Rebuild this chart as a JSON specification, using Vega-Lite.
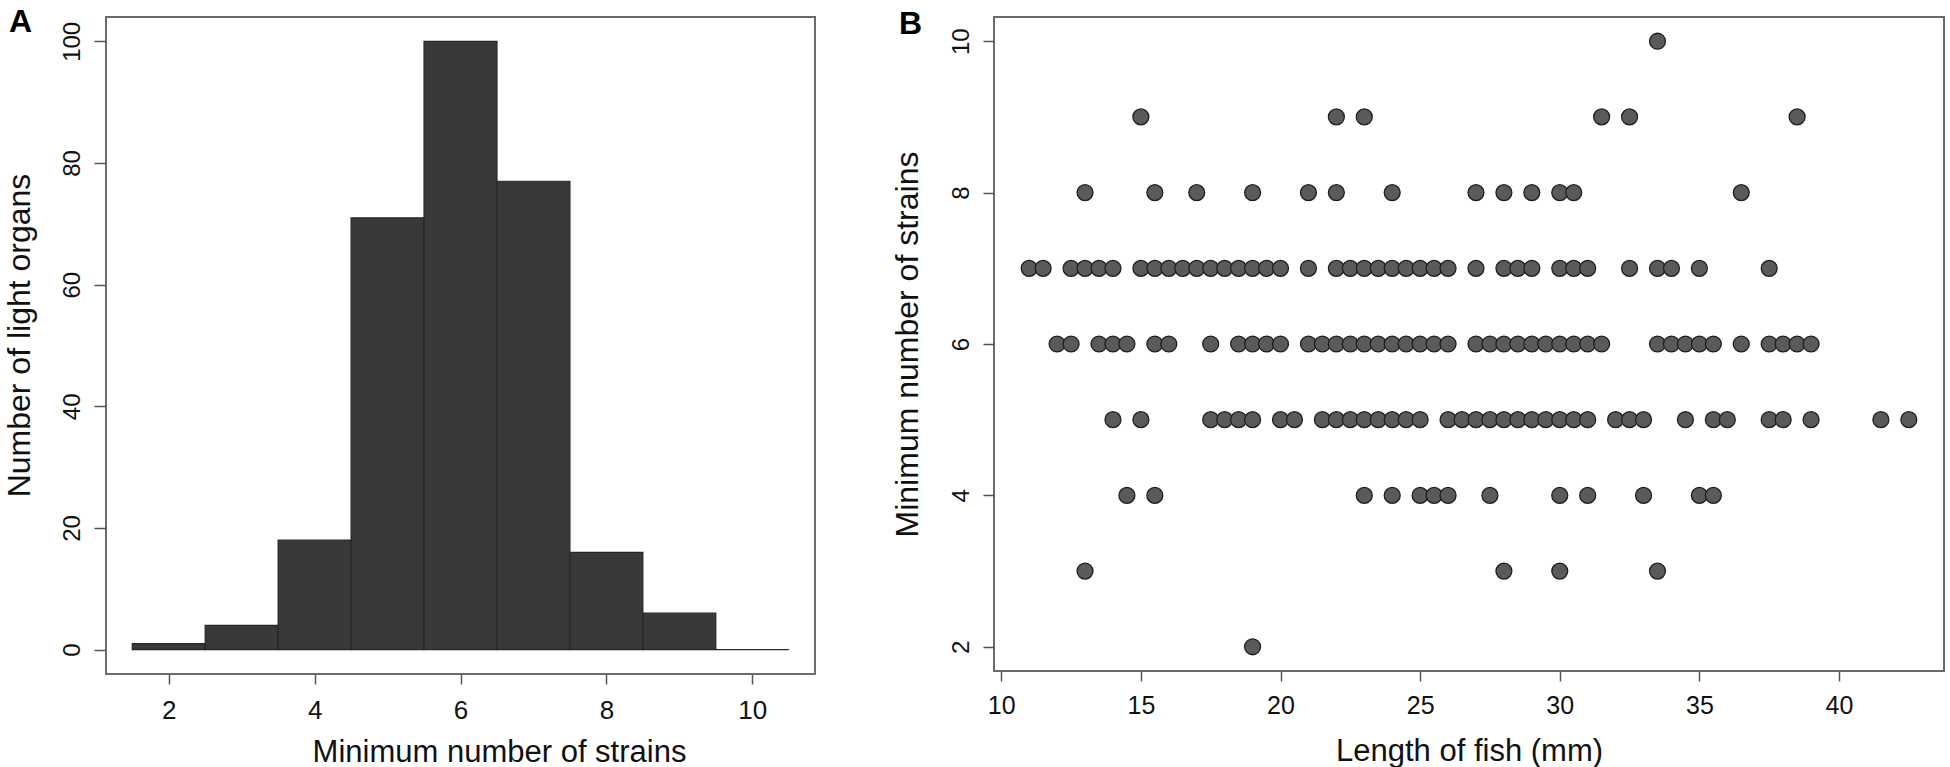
{
  "$schema": "https://vega.github.io/schema/vega-lite/v6.json",
  "padding": {"left": 2, "top": 5, "right": 0, "bottom": 0},
  "spacing": 74,
  "background": "white",
  "config": {
    "font": "Liberation Sans",
    "view": {"stroke": "#6b6b6b", "strokeWidth": 2},
    "axis": {
      "domain": false,
      "grid": false,
      "tickColor": "#555555",
      "tickWidth": 1.5,
      "labelColor": "#111111",
      "titleColor": "#111111",
      "titleFontWeight": "normal",
      "labelFont": "Liberation Sans",
      "titleFont": "Liberation Sans"
    },
    "axisX": {
      "tickSize": 10,
      "labelFontSize": 26,
      "labelBaseline": "alphabetic",
      "labelPadding": 34,
      "titleFontSize": 31,
      "titleBaseline": "alphabetic"
    },
    "axisY": {
      "tickSize": 12,
      "labelAngle": 270,
      "labelAlign": "center",
      "labelBaseline": "alphabetic",
      "labelFontSize": 24,
      "labelPadding": 15,
      "titleFontSize": 32,
      "titleAngle": 270,
      "titleBaseline": "alphabetic"
    },
    "title": {
      "anchor": "start",
      "frame": "group",
      "orient": "top",
      "offset": 0,
      "fontSize": 32,
      "fontWeight": "bold",
      "baseline": "alphabetic",
      "color": "#000000"
    }
  },
  "hconcat": [
    {
      "width": 709,
      "height": 657,
      "title": {"text": "A", "dx": -97, "dy": 26},
      "data": {
        "values": [
          {"lo": 1.5, "hi": 2.5, "count": 1},
          {"lo": 2.5, "hi": 3.5, "count": 4},
          {"lo": 3.5, "hi": 4.5, "count": 18},
          {"lo": 4.5, "hi": 5.5, "count": 71},
          {"lo": 5.5, "hi": 6.5, "count": 100},
          {"lo": 6.5, "hi": 7.5, "count": 77},
          {"lo": 7.5, "hi": 8.5, "count": 16},
          {"lo": 8.5, "hi": 9.5, "count": 6},
          {"lo": 9.5, "hi": 10.5, "count": 0}
        ]
      },
      "mark": {"type": "rect", "fill": "#393939", "stroke": "#262626", "strokeWidth": 1.2},
      "encoding": {
        "x": {
          "field": "lo",
          "type": "quantitative",
          "scale": {"domain": [1.14, 10.86], "nice": false, "zero": false},
          "axis": {"values": [2, 4, 6, 8, 10], "title": "Minimum number of strains", "titleX": 393, "titleY": 87}
        },
        "x2": {"field": "hi"},
        "y": {
          "field": "count",
          "type": "quantitative",
          "scale": {"domain": [-4, 104], "nice": false, "zero": false},
          "axis": {"values": [0, 20, 40, 60, 80, 100], "title": "Number of light organs", "titleX": -77, "titleY": 318}
        },
        "y2": {"datum": 0}
      }
    },
    {
      "width": 950,
      "height": 654,
      "title": {"text": "B", "dx": -95, "dy": 28},
      "data": {
        "values": [
          {"length": 33.5, "strains": 10},
          {"length": 15, "strains": 9}, {"length": 22, "strains": 9}, {"length": 23, "strains": 9},
          {"length": 31.5, "strains": 9}, {"length": 32.5, "strains": 9}, {"length": 38.5, "strains": 9},
          {"length": 13, "strains": 8}, {"length": 15.5, "strains": 8}, {"length": 17, "strains": 8},
          {"length": 19, "strains": 8}, {"length": 21, "strains": 8}, {"length": 22, "strains": 8},
          {"length": 24, "strains": 8}, {"length": 27, "strains": 8}, {"length": 28, "strains": 8},
          {"length": 29, "strains": 8}, {"length": 30, "strains": 8}, {"length": 30.5, "strains": 8},
          {"length": 36.5, "strains": 8},
          {"length": 11, "strains": 7}, {"length": 11.5, "strains": 7}, {"length": 12.5, "strains": 7},
          {"length": 13, "strains": 7}, {"length": 13.5, "strains": 7}, {"length": 14, "strains": 7},
          {"length": 15, "strains": 7}, {"length": 15.5, "strains": 7}, {"length": 16, "strains": 7},
          {"length": 16.5, "strains": 7}, {"length": 17, "strains": 7}, {"length": 17.5, "strains": 7},
          {"length": 18, "strains": 7}, {"length": 18.5, "strains": 7}, {"length": 19, "strains": 7},
          {"length": 19.5, "strains": 7}, {"length": 20, "strains": 7}, {"length": 21, "strains": 7},
          {"length": 22, "strains": 7}, {"length": 22.5, "strains": 7}, {"length": 23, "strains": 7},
          {"length": 23.5, "strains": 7}, {"length": 24, "strains": 7}, {"length": 24.5, "strains": 7},
          {"length": 25, "strains": 7}, {"length": 25.5, "strains": 7}, {"length": 26, "strains": 7},
          {"length": 27, "strains": 7}, {"length": 28, "strains": 7}, {"length": 28.5, "strains": 7},
          {"length": 29, "strains": 7}, {"length": 30, "strains": 7}, {"length": 30.5, "strains": 7},
          {"length": 31, "strains": 7}, {"length": 32.5, "strains": 7}, {"length": 33.5, "strains": 7},
          {"length": 34, "strains": 7}, {"length": 35, "strains": 7}, {"length": 37.5, "strains": 7},
          {"length": 12, "strains": 6}, {"length": 12.5, "strains": 6}, {"length": 13.5, "strains": 6},
          {"length": 14, "strains": 6}, {"length": 14.5, "strains": 6}, {"length": 15.5, "strains": 6},
          {"length": 16, "strains": 6}, {"length": 17.5, "strains": 6}, {"length": 18.5, "strains": 6},
          {"length": 19, "strains": 6}, {"length": 19.5, "strains": 6}, {"length": 20, "strains": 6},
          {"length": 21, "strains": 6}, {"length": 21.5, "strains": 6}, {"length": 22, "strains": 6},
          {"length": 22.5, "strains": 6}, {"length": 23, "strains": 6}, {"length": 23.5, "strains": 6},
          {"length": 24, "strains": 6}, {"length": 24.5, "strains": 6}, {"length": 25, "strains": 6},
          {"length": 25.5, "strains": 6}, {"length": 26, "strains": 6}, {"length": 27, "strains": 6},
          {"length": 27.5, "strains": 6}, {"length": 28, "strains": 6}, {"length": 28.5, "strains": 6},
          {"length": 29, "strains": 6}, {"length": 29.5, "strains": 6}, {"length": 30, "strains": 6},
          {"length": 30.5, "strains": 6}, {"length": 31, "strains": 6}, {"length": 31.5, "strains": 6},
          {"length": 33.5, "strains": 6}, {"length": 34, "strains": 6}, {"length": 34.5, "strains": 6},
          {"length": 35, "strains": 6}, {"length": 35.5, "strains": 6}, {"length": 36.5, "strains": 6},
          {"length": 37.5, "strains": 6}, {"length": 38, "strains": 6}, {"length": 38.5, "strains": 6},
          {"length": 39, "strains": 6},
          {"length": 14, "strains": 5}, {"length": 15, "strains": 5}, {"length": 17.5, "strains": 5},
          {"length": 18, "strains": 5}, {"length": 18.5, "strains": 5}, {"length": 19, "strains": 5},
          {"length": 20, "strains": 5}, {"length": 20.5, "strains": 5}, {"length": 21.5, "strains": 5},
          {"length": 22, "strains": 5}, {"length": 22.5, "strains": 5}, {"length": 23, "strains": 5},
          {"length": 23.5, "strains": 5}, {"length": 24, "strains": 5}, {"length": 24.5, "strains": 5},
          {"length": 25, "strains": 5}, {"length": 26, "strains": 5}, {"length": 26.5, "strains": 5},
          {"length": 27, "strains": 5}, {"length": 27.5, "strains": 5}, {"length": 28, "strains": 5},
          {"length": 28.5, "strains": 5}, {"length": 29, "strains": 5}, {"length": 29.5, "strains": 5},
          {"length": 30, "strains": 5}, {"length": 30.5, "strains": 5}, {"length": 31, "strains": 5},
          {"length": 32, "strains": 5}, {"length": 32.5, "strains": 5}, {"length": 33, "strains": 5},
          {"length": 34.5, "strains": 5}, {"length": 35.5, "strains": 5}, {"length": 36, "strains": 5},
          {"length": 37.5, "strains": 5}, {"length": 38, "strains": 5}, {"length": 39, "strains": 5},
          {"length": 41.5, "strains": 5}, {"length": 42.5, "strains": 5},
          {"length": 14.5, "strains": 4}, {"length": 15.5, "strains": 4}, {"length": 23, "strains": 4},
          {"length": 24, "strains": 4}, {"length": 25, "strains": 4}, {"length": 25.5, "strains": 4},
          {"length": 26, "strains": 4}, {"length": 27.5, "strains": 4}, {"length": 30, "strains": 4},
          {"length": 31, "strains": 4}, {"length": 33, "strains": 4}, {"length": 35, "strains": 4},
          {"length": 35.5, "strains": 4},
          {"length": 13, "strains": 3}, {"length": 28, "strains": 3}, {"length": 30, "strains": 3},
          {"length": 33.5, "strains": 3},
          {"length": 19, "strains": 2}
        ]
      },
      "mark": {"type": "circle", "size": 254, "fill": "#5a5a5a", "stroke": "#1e1e1e", "strokeWidth": 1.3, "opacity": 1},
      "encoding": {
        "x": {
          "field": "length",
          "type": "quantitative",
          "scale": {"domain": [9.74, 43.76], "nice": false, "zero": false},
          "axis": {"values": [10, 15, 20, 25, 30, 35, 40], "title": "Length of fish (mm)", "labelFontSize": 25, "labelPadding": 32, "titleY": 89}
        },
        "y": {
          "field": "strains",
          "type": "quantitative",
          "scale": {"domain": [1.68, 10.32], "nice": false, "zero": false},
          "axis": {"values": [2, 4, 6, 8, 10], "title": "Minimum number of strains", "titleX": -77, "tickSize": 11, "labelPadding": 15}
        }
      }
    }
  ]
}
